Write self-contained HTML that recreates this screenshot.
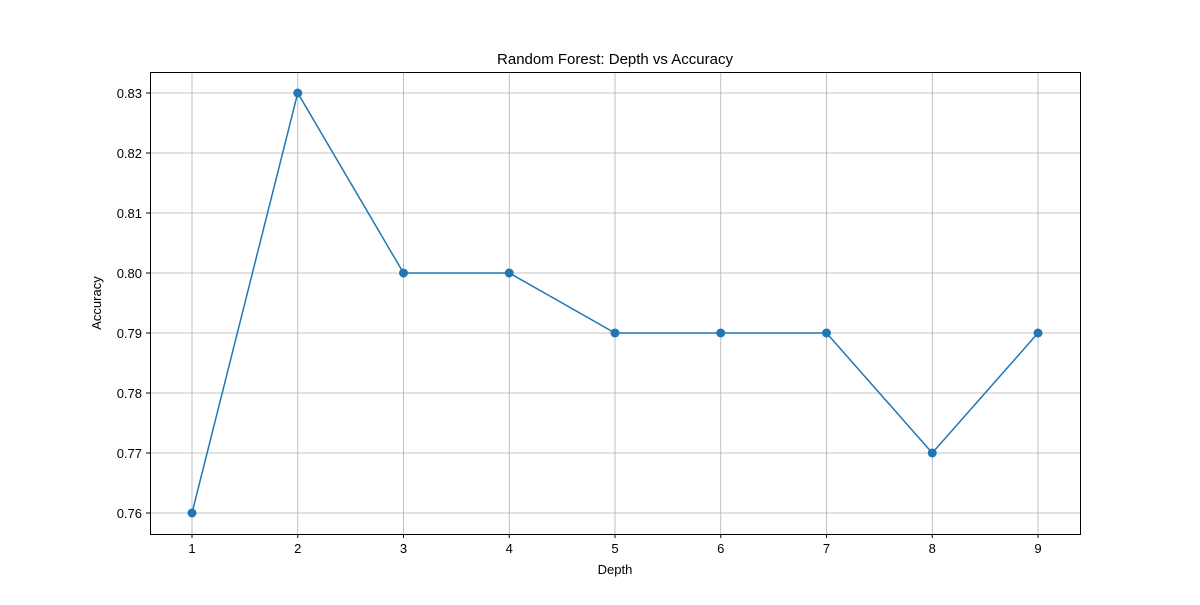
<!DOCTYPE html>
<html><head><meta charset="utf-8"><style>
body{margin:0;background:#fff;}
svg text{font-family:"Liberation Sans","DejaVu Sans",sans-serif;fill:#000;}
</style></head><body>
<svg id="chart" width="1200" height="600" xmlns="http://www.w3.org/2000/svg">
<rect width="1200" height="600" fill="#fff"/>
<text x="615" y="64" font-size="15" text-anchor="middle">Random Forest: Depth vs Accuracy</text>
<text x="615" y="574" font-size="13" text-anchor="middle">Depth</text>
<text x="101" y="303" font-size="13" text-anchor="middle" transform="rotate(-90 101 303)">Accuracy</text>
<g id="grid"></g><g id="ticks"></g><g id="series"></g>
<rect x="150.5" y="72.5" width="930" height="462" fill="none" stroke="#000" stroke-width="1"/>
</svg>
<script>
const depths = [1,2,3,4,5,6,7,8,9];
const accuracy = [0.76,0.83,0.80,0.80,0.79,0.79,0.79,0.77,0.79];
const yTicks = [0.76,0.77,0.78,0.79,0.80,0.81,0.82,0.83];
const xTicks = [1,2,3,4,5,6,7,8,9];
const NS="http://www.w3.org/2000/svg";
const xs=d=>192+(d-1)*105.75;
const ys=v=>513-(v-0.76)*6000;
function mk(t,a,p){const e=document.createElementNS(NS,t);for(const k in a)e.setAttribute(k,a[k]);p.appendChild(e);return e;}
const g=document.getElementById('grid'),tk=document.getElementById('ticks'),s=document.getElementById('series');
xTicks.forEach(d=>{const x=xs(d);
const l=mk('line',{x1:x,x2:x,y1:72,y2:534,stroke:'#b0b0b0','stroke-width':0.8},g);


mk('line',{x1:x,x2:x,y1:534,y2:538,stroke:'#000'},tk);
const t=mk('text',{x:x,y:553,'font-size':13,'text-anchor':'middle'},tk);t.textContent=d;

});
yTicks.forEach(v=>{const y=ys(v);
const l=mk('line',{x1:150,x2:1080,y1:y,y2:y,stroke:'#b0b0b0','stroke-width':0.8},g);


mk('line',{x1:146,x2:150,y1:y,y2:y,stroke:'#000'},tk);
const t=mk('text',{x:142,y:y+5,'font-size':13,'text-anchor':'end'},tk);t.textContent=v.toFixed(2);

});
const pl=mk('polyline',{points:depths.map((d,i)=>xs(d)+','+ys(accuracy[i])).join(' '),fill:'none',stroke:'#1f77b4','stroke-width':1.5},s);


depths.forEach((d,i)=>{const c=mk('circle',{cx:xs(d),cy:ys(accuracy[i]),r:4.5,fill:'#1f77b4'},s);

});
</script>
</body></html>
